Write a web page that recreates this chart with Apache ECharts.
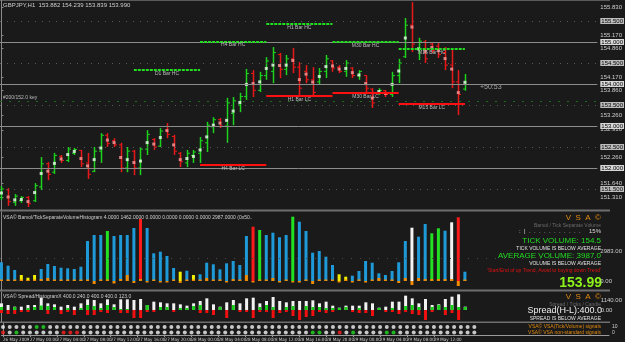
<!DOCTYPE html>
<html>
<head>
<meta charset="utf-8">
<script src="https://cdn.jsdelivr.net/npm/echarts@6/dist/echarts.min.js"></script>
<style>
  html, body { margin: 0; padding: 0; background: #1a1a1a; }
  #main { width: 625px; height: 342px; }
</style>
</head>
<body>
<div id="main"></div>
<script>
// GBPJPY H1, 26 May 2009 20:00 .. 29 May 2009 18:00 (71 bars)
const opens = [151.30,151.48,151.18,151.22,151.30,151.22,151.55,152.10,151.90,152.28,
  152.18,152.35,152.42,152.12,151.92,152.40,152.78,152.65,152.55,152.00,
  152.40,152.00,152.45,152.68,152.52,152.90,152.75,152.35,152.12,152.30,
  152.35,152.60,152.98,153.15,153.00,153.30,153.50,153.70,154.25,153.85,
  154.20,154.30,154.70,154.35,154.60,154.40,154.30,154.10,154.05,154.30,
  154.55,154.40,154.30,154.38,154.20,154.20,153.88,153.78,153.84,153.75,
  154.20,154.65,155.40,154.85,155.00,154.95,154.90,154.75,154.45,154.05,
  153.88];
const highs = [151.57,151.52,151.38,151.33,151.33,151.64,152.26,152.14,152.36,152.31,
  152.50,152.48,152.43,152.36,152.50,152.83,152.83,152.71,152.60,152.50,
  152.43,152.50,152.90,152.71,152.95,153.07,152.79,152.38,152.43,152.43,
  152.74,153.10,153.21,153.19,153.67,153.69,153.79,154.36,154.33,154.29,
  154.64,154.88,154.74,154.69,154.86,154.52,154.45,154.40,154.38,154.69,
  154.57,154.45,154.57,154.40,154.33,154.21,153.90,153.90,153.86,154.29,
  154.60,155.57,155.95,155.10,155.05,155.00,154.98,154.88,154.81,154.33,
  154.24];
const lows = [151.24,151.10,151.10,151.17,151.07,151.19,151.48,151.71,151.86,152.12,
  152.14,152.31,152.02,151.74,151.90,152.12,152.50,152.50,151.90,151.90,
  151.83,151.83,152.31,152.43,152.50,152.71,152.31,152.02,152.02,152.12,
  152.12,152.38,152.83,152.95,152.60,153.02,153.33,153.62,153.69,153.81,
  154.10,154.02,154.14,154.21,154.26,153.69,154.02,153.69,153.98,154.14,
  154.29,154.26,154.17,154.14,154.10,153.81,153.43,153.74,153.69,153.69,
  154.02,154.62,154.76,154.57,154.50,154.74,154.62,154.33,153.90,153.26,
  153.84];
const closes = [151.50,151.20,151.33,151.30,151.15,151.58,152.10,151.85,152.30,152.18,
  152.45,152.44,152.10,151.85,152.40,152.78,152.58,152.55,152.00,152.40,
  152.00,152.45,152.80,152.50,152.88,152.80,152.40,152.15,152.35,152.38,
  152.65,153.02,153.15,153.00,153.55,153.60,153.70,154.25,153.85,154.20,
  154.55,154.75,154.35,154.60,154.40,153.90,154.10,153.80,154.30,154.60,
  154.38,154.30,154.50,154.20,154.30,153.90,153.55,153.85,153.75,154.20,
  154.50,155.40,154.95,155.02,154.60,154.80,154.70,154.45,154.05,153.75,
  153.99];

// tick volume histogram
const volumes = [1870,1530,1100,600,330,600,1200,1700,1500,1330,
  1270,1200,1430,4000,4600,4600,5000,4500,4600,4600,
  5300,6200,5300,2770,2930,2500,1300,930,1030,600,
  670,1830,1670,1170,1770,2000,1600,4500,5430,5100,
  4600,4830,4370,4600,6430,5930,5000,2830,3000,2430,
  1600,670,430,530,1000,2000,1830,770,600,1000,
  1870,4000,5330,4430,5700,4770,5270,5030,5870,6370,
  930];
const volumeKinds = "bbbyyybbbb" + "bbbbbbgbbb" + "brbbbbbyby" + "bbbbbbbbrg" +
  "bbbbgbbbbb" + "byybbbbbbb" + "bbwbbggbwr" + "b";
const volumeBase = [150,150,150,150,100,150,200,300,150,150,
  150,150,150,150,-300,150,150,-250,200,600,
  -200,200,-150,150,-150,-150,150,-200,150,150,
  150,300,150,150,-150,200,150,600,-150,150,
  150,300,-150,150,-150,-150,150,-300,150,150,
  150,-150,150,-150,150,-150,150,300,150,150,
  -200,300,-400,300,200,200,200,200,200,-500,
  150];
const volumeAvgLine = 2300;

// spread histogram
const spreadHL = [800,600,400,400,600,600,1480,800,680,400,
  600,400,800,1280,1200,800,1280,680,1280,1280,
  1200,1320,600,1000,920,800,800,680,520,800,
  1080,1400,680,400,920,1200,800,1400,1480,800,
  1080,1560,1080,920,1080,1080,1080,1160,800,1000,
  520,280,520,520,520,920,800,280,400,1000,
  1000,1720,1400,800,1320,600,680,1320,1600,1880,
  400];
const spreadUp = [360,0,360,0,240,360,540,480,360,0,
  240,0,240,600,480,240,600,360,120,120,
  0,0,600,0,360,360,0,240,240,480,
  600,0,0,360,0,600,0,0,0,360,
  600,360,0,360,480,0,480,360,360,240,
  240,240,360,0,240,0,0,240,0,240,
  0,480,600,360,0,360,600,360,600,360,
  360];
const spreadDown = [-360,-480,-480,-240,-240,0,0,-480,0,-480,
  -240,-600,0,-600,-600,-240,-360,0,-360,-360,
  -960,-960,-240,-240,0,0,-240,0,0,0,
  -360,-360,-600,0,-960,0,-240,-240,-960,-240,
  -240,-960,-360,-240,-720,-1200,-840,-720,-240,-360,
  -240,0,0,-240,-360,-360,-720,0,-240,-240,
  -480,-240,-480,-600,-1200,-240,0,-600,-360,-1200,
  0];

// signal dots (two rows)
const dotsTop = "wwwwwggwww" + "wwwwwwwwww".repeat(6) + "w";
const dotsBottom = "rwgwwwwwwr" + "rrwwwwwwww" + "wwwwwwwwww" + "wwwwwwwwww" +
  "wwwwwwggww" + "rwgwwwwggw" + "wwwwwwwwww" + "w";

// levels
const hcNames = ["D1 Bar HC", "H4 Bar HC", "H1 Bar HC", "M30 Bar HC", "M15 Bar HC"];
const hcPrices = [154.33, 155.01, 155.43, 155.00, 154.83];
const lcNames = ["H4 Bar LC", "H1 Bar LC", "M30 Bar LC", "M15 Bar LC"];
const lcPrices = [152.07, 153.71, 153.79, 153.52];
const hcFrom = [20, 30, 40, 50, 60];
const lcFrom = [30, 40, 50, 60];
const roundLevels = [155, 154, 153, 152];
const halfLevels = [155.5, 154.5, 153.5, 152.5, 151.5];
const trendLevel = 153.595;

// axis labels
const priceTicks = [155.830, 155.170, 154.860, 154.170, 153.860, 153.260, 152.910, 152.260, 151.640, 151.310];
const timeTickIdx = [0,4,8,12,16,20,24,28,32,36,40,44,48,52,56,60,64,68];
const timeLabels = ["26 May 2009","27 May 00:00","27 May 04:00","27 May 08:00","27 May 12:00",
  "27 May 16:00","27 May 20:00","28 May 00:00","28 May 04:00","28 May 08:00","28 May 12:00",
  "28 May 16:00","28 May 20:00","29 May 00:00","29 May 04:00","29 May 08:00","29 May 12:00","29 May 16:00"];
const volumeTicks = [0, 2983];
const spreadTicks = [0, 1140];

const FONT = '"Liberation Sans", Arial, sans-serif';
const NARROW = '"Liberation Sans Narrow", "DejaVu Sans Condensed", sans-serif';
const GREEN = '#1ed21e', RED = '#e81818';
const BLUE = '#1f9ad8';

(function () {
  const myChart = echarts.init(document.getElementById('main'));

  const xMin = -0.22, xMax = 90;
  const xAxisBase = (gridIndex) => ({
    type: 'value', gridIndex: gridIndex, min: xMin, max: xMax, show: false
  });

  const barData = opens.map((o, i) => [i, o, highs[i], lows[i], closes[i]]);
  const midData = opens.map((o, i) => ({
    value: [i, (highs[i] + lows[i]) / 2],
    itemStyle: { color: closes[i] >= o ? '#e8ffe8' : '#ff9a9a' }
  }));

  function renderOhlc(params, api) {
    const i = api.value(0);
    const up = api.value(4) >= api.value(1);
    const col = up ? GREEN : RED;
    const h = api.coord([i, api.value(2)]);
    const l = api.coord([i, api.value(3)]);
    const o = api.coord([i, api.value(1)]);
    const c = api.coord([i, api.value(4)]);
    const x = Math.round(h[0]) + 0.5;
    return {
      type: 'group',
      children: [
        { type: 'line', shape: { x1: x, y1: h[1], x2: x, y2: l[1] }, style: { stroke: col, lineWidth: 1.5 } },
        { type: 'line', shape: { x1: x - 2.5, y1: o[1], x2: x, y2: o[1] }, style: { stroke: col, lineWidth: 1 } },
        { type: 'line', shape: { x1: x, y1: c[1], x2: x + 2.5, y2: c[1] }, style: { stroke: col, lineWidth: 1 } }
      ]
    };
  }

  const volColor = { b: BLUE, y: '#f0f000', g: '#22e022', r: '#ff1a1a', w: '#f4f4f4' };
  const dotColor = { w: '#f2f2f2', g: '#22dd22', r: '#ff2020' };

  // level lines
  const levelLines = [];
  hcNames.forEach((n, k) => levelLines.push([
    { coord: [hcFrom[k], hcPrices[k]], name: n, lineStyle: { color: '#22dd22', width: 2, type: [3, 1] } },
    { coord: [hcFrom[k] + 10, hcPrices[k]] }
  ]));
  lcNames.forEach((n, k) => levelLines.push([
    { coord: [lcFrom[k], lcPrices[k]], name: n, lineStyle: { color: '#ff1010', width: 2, type: 'solid' } },
    { coord: [lcFrom[k] + 10, lcPrices[k]] }
  ]));
  const roundLines = roundLevels.map(v => ({
    yAxis: v, lineStyle: { color: '#8c8c8c', width: 1, type: 'solid' },
    label: { show: true, position: 'end', formatter: v.toFixed(3), color: '#000', backgroundColor: '#d8d8d8',
      fontSize: 6, fontFamily: FONT, padding: [0, 1], distance: 3 }
  }));
  const halfLines = halfLevels.map(v => ({
    yAxis: v, lineStyle: { color: '#5a5a5a', width: 1, type: [1, 6] },
    label: { show: true, position: 'end', formatter: v.toFixed(3), color: '#000', backgroundColor: '#bdbdbd',
      fontSize: 6, fontFamily: FONT, padding: [0, 1], distance: 3 }
  }));

  const T = (x, y, text, size, color, extra) => Object.assign({
    type: 'text', x: x, y: y, silent: true,
    style: Object.assign({ text: text, fill: color, font: size + 'px ' + FONT, textVerticalAlign: 'top' }, (extra || {}))
  });
  const R = (x, y, text, size, color, weight) => T(x, y, text, size, color,
    { textAlign: 'right', font: (weight || 'normal') + ' ' + size + 'px ' + FONT });

  const option = {
    backgroundColor: '#1a1a1a',
    animation: false,
    grid: [
      { left: 0, right: 16, top: 0, height: 210 },
      { left: 0, right: 16, top: 212, height: 78 },
      { left: 0, right: 16, top: 292, height: 30 },
      { left: 0, right: 16, top: 323, height: 12 }
    ],
    xAxis: [
      xAxisBase(0), xAxisBase(1), xAxisBase(2),
      {
        type: 'value', gridIndex: 3, min: xMin, max: xMax,
        axisLine: { show: true, lineStyle: { color: '#9a9a9a' } },
        axisTick: { show: true, customValues: timeTickIdx, length: 2, lineStyle: { color: '#9a9a9a' } },
        axisLabel: {
          show: true, customValues: timeTickIdx, fontSize: 4.5, fontFamily: NARROW, color: '#cfcfcf',
          align: 'left', margin: 2, hideOverlap: false, showMinLabel: true,
          formatter: v => timeLabels[timeTickIdx.indexOf(Math.round(v))] || ''
        },
        splitLine: { show: false }
      }
    ],
    yAxis: [
      {
        type: 'value', gridIndex: 0, position: 'right', min: 151, max: 156,
        axisLine: { show: true, lineStyle: { color: '#8a8a8a' } },
        axisTick: { show: true, customValues: priceTicks, length: 2, inside: false, lineStyle: { color: '#8a8a8a' } },
        axisLabel: { customValues: priceTicks, formatter: v => v.toFixed(3), fontSize: 6, fontFamily: FONT, color: '#cfcfcf', margin: 3 },
        splitLine: { show: false }
      },
      {
        type: 'value', gridIndex: 1, position: 'right', min: -900, max: 6900,
        axisLine: { show: true, lineStyle: { color: '#8a8a8a' } },
        axisTick: { show: false },
        axisLabel: { customValues: volumeTicks, formatter: v => v.toFixed(2), fontSize: 6, fontFamily: FONT, color: '#cfcfcf', margin: 3 },
        splitLine: { show: false }
      },
      {
        type: 'value', gridIndex: 2, position: 'right', min: -1440, max: 2160,
        axisLine: { show: true, lineStyle: { color: '#8a8a8a' } },
        axisTick: { show: false },
        axisLabel: { customValues: spreadTicks, formatter: v => v.toFixed(2), fontSize: 6, fontFamily: FONT, color: '#cfcfcf', margin: 3 },
        splitLine: { show: false }
      },
      {
        type: 'value', gridIndex: 3, position: 'right', min: 0, max: 12,
        axisLine: { show: true, lineStyle: { color: '#8a8a8a' } },
        axisTick: { show: false },
        axisLabel: { customValues: [2, 8], formatter: v => (v > 5 ? '10' : '0'), fontSize: 5, fontFamily: FONT, color: '#cfcfcf', margin: 3 },
        splitLine: { show: false }
      }
    ],
    series: [
      {
        // reference levels (round numbers, half levels, trend)
        type: 'line', xAxisIndex: 0, yAxisIndex: 0, data: [], silent: true,
        markLine: {
          symbol: 'none', silent: true, animation: false,
          data: roundLines.concat(halfLines, [{
            yAxis: trendLevel, lineStyle: { color: '#1f6a1f', width: 1, type: [2, 7] }, label: { show: false }
          }])
        }
      },
      {
        type: 'line', xAxisIndex: 0, yAxisIndex: 0, data: [], silent: true,
        markLine: {
          symbol: 'none', silent: true, animation: false,
          label: { show: true, position: 'insideMiddleBottom', formatter: '{b}', color: '#bdbdbd', fontSize: 5, fontFamily: FONT, distance: 1 },
          data: levelLines
        }
      },
      {
        type: 'custom', xAxisIndex: 0, yAxisIndex: 0, data: barData, renderItem: renderOhlc, silent: true
      },
      {
        type: 'scatter', xAxisIndex: 0, yAxisIndex: 0, data: midData, symbol: 'rect', symbolSize: 3, silent: true
      },
      {
        type: 'bar', xAxisIndex: 1, yAxisIndex: 1, barWidth: 3, barGap: '-100%', silent: true,
        data: volumes.map((v, i) => ({ value: [i, v], itemStyle: { color: volColor[volumeKinds[i]] } })),
        markLine: {
          symbol: 'none', silent: true, label: { show: false },
          data: [{ yAxis: volumeAvgLine, lineStyle: { color: '#4a4a4a', type: [1, 8], width: 1 } }]
        }
      },
      {
        type: 'bar', xAxisIndex: 1, yAxisIndex: 1, barWidth: 3, barGap: '-100%', silent: true,
        itemStyle: { color: '#f08a00' },
        data: volumeBase.map((v, i) => [i, v])
      },
      {
        type: 'bar', xAxisIndex: 2, yAxisIndex: 2, barWidth: 3, barGap: '-100%', silent: true,
        itemStyle: { color: '#f2f2f2' },
        data: spreadHL.map((v, i) => [i, v])
      },
      {
        type: 'bar', xAxisIndex: 2, yAxisIndex: 2, barWidth: 3, barGap: '-100%', silent: true,
        itemStyle: { color: '#18d018' },
        data: spreadUp.map((v, i) => [i, v])
      },
      {
        type: 'bar', xAxisIndex: 2, yAxisIndex: 2, barWidth: 3, barGap: '-100%', silent: true,
        itemStyle: { color: '#f01010' },
        data: spreadDown.map((v, i) => [i, v])
      },
      {
        type: 'scatter', xAxisIndex: 3, yAxisIndex: 3, symbol: 'circle', symbolSize: 4, silent: true,
        data: opens.map((o, i) => ({ value: [i, 8], itemStyle: { color: dotColor[dotsTop[i]] } }))
          .concat(opens.map((o, i) => ({ value: [i, 2.5], itemStyle: { color: dotColor[dotsBottom[i]] } })))
      }
    ],
    graphic: [
      // pane separators
      { type: 'rect', shape: { x: 0, y: 209.5, width: 610, height: 2 }, style: { fill: '#6e6e6e' }, silent: true },
      { type: 'rect', shape: { x: 0, y: 289.5, width: 610, height: 2 }, style: { fill: '#6e6e6e' }, silent: true },
      { type: 'rect', shape: { x: 0, y: 321.5, width: 610, height: 1.5 }, style: { fill: '#6e6e6e' }, silent: true },
      { type: 'rect', shape: { x: 0, y: 0, width: 610, height: 1 }, style: { fill: '#5a5a5a' }, silent: true },
      T(3, 2, 'GBPJPY,H1  153.882 154.239 153.839 153.990', 6, '#cfcfcf'),
      T(3, 95, '#200/152.0 key', 5, '#bdbdbd'),
      T(480, 84, '+50:53', 7, '#a8a8a8'),
      T(3, 215, 'VSA© Barvol/TickSeparateVolumeHistogram 4.0000 1462.0000 0.0000 0.0000 0.0000 0.0000 2987.0000 (0x50..', 5, '#cfcfcf'),
      T(3, 294, 'VSA© Spread/HistogramX 400.0 240.0 400.0 400.0 123.0', 5, '#cfcfcf'),
      R(601, 214, 'V  S  A  ©', 8, '#e08a10'),
      R(601, 223, 'Barvol / Tick Separate Volume', 5, '#6a6a6a'),
      R(601, 228, ':  |  .  .  .  .  .  .  .  .  .  .  .     15%', 6, '#dcdcdc'),
      R(601, 237, 'TICK VOLUME: 154.5', 8, '#22dd22'),
      R(601, 246, 'TICK VOLUME IS BELOW AVERAGE', 5, '#e0e0e0'),
      R(601, 252, 'AVERAGE VOLUME: 3987.0', 8, '#22dd22'),
      R(601, 261, 'VOLUME IS BELOW AVERAGE', 5, '#e0e0e0'),
      R(601, 268, "'Start/End of up Trend, Avoid to buying down Trend'", 5, '#e01010'),
      R(602, 276, '153.99', 14, '#8df01a', 'bold'),
      R(601, 293, 'V  S  A  ©', 8, '#e08a10'),
      R(601, 302, 'Spread / Ticks / Candle', 5, '#6a6a6a'),
      R(602, 306, 'Spread(H-L):400.0', 9, '#f0f0f0'),
      R(601, 316, 'SPREAD IS BELOW AVERAGE', 5, '#e0e0e0'),
      R(601, 324, 'VSA© VSA(Tick/Volume) signals', 5, '#e08a10'),
      R(601, 330, 'VSA© VSA non-standard signals', 5, '#e08a10')
    ]
  };

  myChart.setOption(option);

  window.addEventListener('resize', function () {
    myChart.resize();
  });
})();
</script>
</body>
</html>
